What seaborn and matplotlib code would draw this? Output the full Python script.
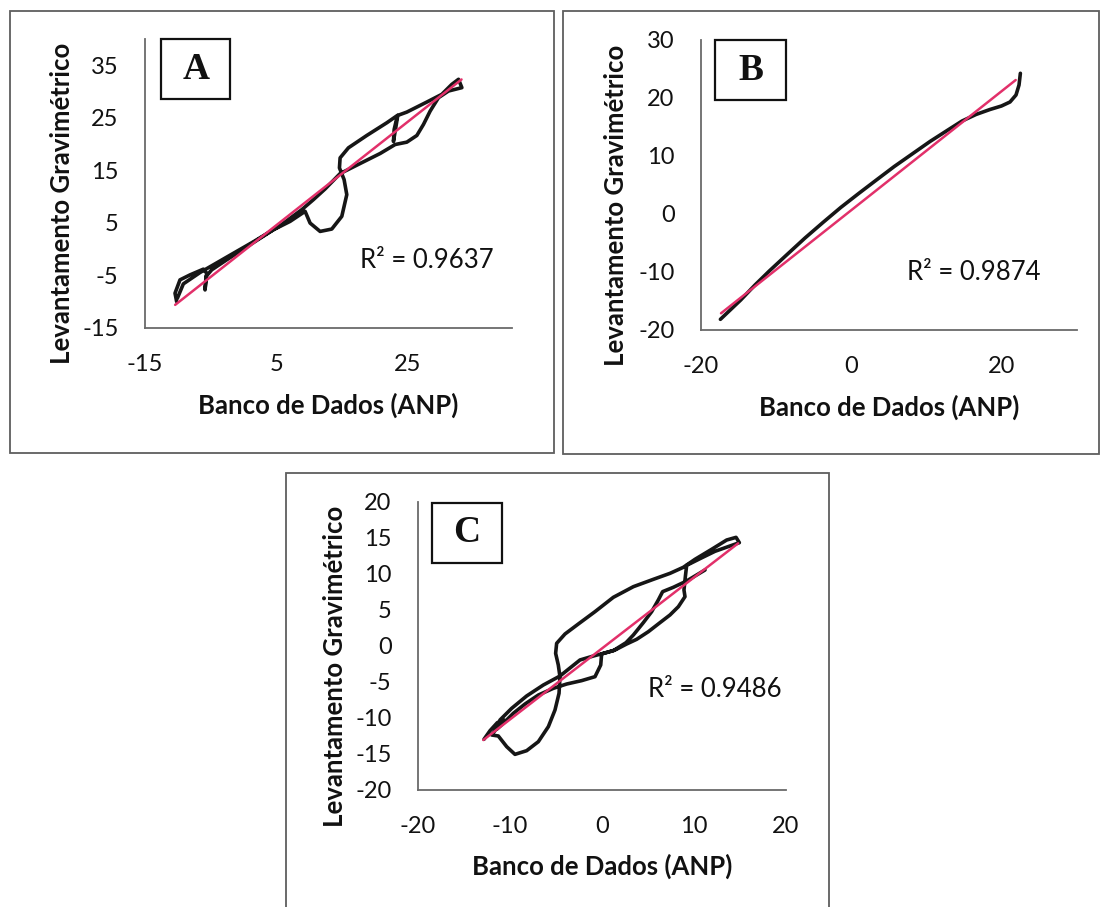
import numpy as np
import matplotlib
matplotlib.use("Agg")
import matplotlib.pyplot as plt
from matplotlib.patches import Rectangle
import seaborn as sns

# ---------------------------------------------------------------
# Gravity anomaly profiles: ANP database (x) vs. gravity survey (y)
# ---------------------------------------------------------------

# Panel A
a_anp = [-10.17, -10.42, -9.66, -8.13, -6.09, -5.59, -5.84, -5.69, -4.82, -2.53,
         1.03, 4.59, 7.14, 9.43, 10.19, 11.72, 13.50, 15.03, 15.79, 15.38,
         14.67, 14.77, 16.04, 18.84, 21.90, 23.52, 23.02, 22.91, 23.22, 23.57,
         24.95, 28.00, 30.29, 31.82, 32.84, 33.35, 31.31, 29.78, 28.51, 27.49,
         26.48, 24.95, 23.17, 20.88, 17.82, 14.77, 12.48, 10.70, 8.92, 5.61,
         1.54, -2.53, -6.60, -9.15, -10.06]
a_grav = [-9.97, -8.38, -5.84, -4.89, -3.80, -4.57, -7.75, -5.20, -3.93, -2.02,
          0.84, 3.70, 5.29, 7.20, 4.97, 3.38, 3.83, 6.25, 10.38, 13.24,
          15.47, 17.38, 19.29, 21.64, 24.06, 25.46, 22.79, 20.50, 22.79, 25.46,
          26.09, 28.00, 29.47, 31.37, 32.33, 30.74, 30.10, 28.83, 26.28, 23.74,
          21.64, 20.37, 19.92, 18.21, 16.30, 14.39, 11.46, 9.43, 7.52, 4.47,
          1.41, -1.51, -4.44, -6.60, -9.34]
a_trend_anp = [-10.4, 33.3]
a_trend_grav = [-10.6, 32.3]

# Panel B
b_anp = [-17.42, -14.72, -12.82, -10.92, -8.55, -6.17, -3.79, -1.42, 0.96, 3.32,
         5.70, 8.07, 10.45, 12.83, 14.71, 16.57, 18.43, 19.95, 21.09, 21.89,
         22.29, 22.47]
b_grav = [-18.16, -14.83, -12.24, -9.83, -6.98, -4.14, -1.47, 1.12, 3.53, 5.86,
          8.19, 10.34, 12.50, 14.48, 16.03, 17.16, 18.02, 18.62, 19.31, 20.52,
          22.24, 24.26]
b_trend_anp = [-17.34, 21.85]
b_trend_grav = [-17.12, 23.10]

# Panel C
c_anp = [-12.83, -12.17, -11.38, -10.65, -11.45, -11.99, -11.27, -10.36, -9.46, -8.19,
         -6.92, -5.83, -5.11, -4.67, -4.57, -4.75, -5.04, -4.93, -4.02, -2.57,
         -0.76, 1.23, 3.41, 5.58, 7.39, 8.84, 10.11, 11.92, 13.55, 14.57,
         14.93, 13.91, 12.28, 10.65, 9.20, 9.06, 8.91, 9.02, 8.30, 7.39,
         6.30, 5.04, 3.77, 2.68, 1.41, -0.04, -0.14, -0.76, -2.21, -3.84,
         -5.29, -6.92, -8.37, -9.64, -10.65, -11.45, -11.09, -9.82, -8.19, -6.38,
         -4.57, -3.30, -2.39, -0.94, 1.23, 2.61, 3.41, 4.49, 5.40, 6.12,
         6.59, 7.75, 9.20, 11.20]
c_grav = [-12.96, -11.76, -10.65, -10.28, -11.44, -12.36, -12.50, -13.98, -15.05, -14.54,
          -13.29, -11.20, -8.89, -6.57, -4.26, -2.64, -1.02, 0.37, 1.67, 3.06,
          4.77, 6.76, 8.24, 9.26, 10.09, 10.93, 12.04, 13.43, 14.72, 15.09,
          14.35, 13.89, 13.15, 12.13, 11.20, 9.63, 7.78, 6.85, 5.46, 4.31,
          3.24, 1.99, 0.93, 0.28, -0.56, -1.11, -2.64, -4.26, -4.81, -5.28,
          -5.88, -6.81, -8.06, -9.35, -10.65, -11.57, -10.28, -8.66, -6.94, -5.42,
          -4.17, -2.87, -1.94, -1.39, -0.65, 0.46, 1.53, 3.24, 4.77, 6.39,
          7.55, 8.15, 9.03, 10.56]
c_trend_anp = [-12.9, 14.8]
c_trend_grav = [-13.06, 14.26]

panel_letters = ["A", "B", "C"]
r2_labels = ["0.9637", "0.9874", "0.9486"]
x_ticks = [[-15, 5, 25], [-20, 0, 20], [-20, -10, 0, 10, 20]]
y_ticks = [[-15, -5, 5, 15, 25, 35], [-20, -10, 0, 10, 20, 30],
           [-20, -15, -10, -5, 0, 5, 10, 15, 20]]
x_limits = [(-15, 41), (-20, 30), (-20, 20)]
y_limits = [(-15, 40), (-20, 30), (-20, 20)]

x_title = "Banco de Dados (ANP)"
y_title = "Levantamento Gravimétrico"

# ---------------------------------------------------------------
sns.set_theme(style="white")
plt.rcParams["font.family"] = ["Lato", "DejaVu Sans"]
plt.rcParams["axes.unicode_minus"] = False

W, H = 1101, 907
fig = plt.figure(figsize=(W / 100, H / 100), dpi=100)
fig.patch.set_facecolor("white")


def fig_rect(left, top, right, bottom):
    return [left / W, 1 - bottom / H, (right - left) / W, (bottom - top) / H]


# pixel boxes of the plotting areas and of the surrounding frames
axes_px = [(145, 39, 512, 328), (701, 40, 1077, 330), (418, 502, 786, 790)]
frames_px = [(10, 11, 554, 453), (563, 11, 1099, 454), (286, 473, 829, 920)]
r2_pos = [(0.586, 0.235), (0.548, 0.197), (0.625, 0.350)]
letter_box = [(0.044, 0.792, 0.232, 1.0), (0.037, 0.793, 0.226, 1.0),
              (0.038, 0.788, 0.228, 0.997)]

xs = [a_anp, b_anp, c_anp]
ys = [a_grav, b_grav, c_grav]
trend_x = [a_trend_anp, b_trend_anp, c_trend_anp]
trend_y = [a_trend_grav, b_trend_grav, c_trend_grav]

for i in range(3):
    # frame around each chart
    fl, ft, fr, fb = frames_px[i]
    fig.add_artist(Rectangle((fl / W, 1 - fb / H), (fr - fl) / W, (fb - ft) / H,
                             transform=fig.transFigure, fill=False,
                             edgecolor="#5e5e5e", linewidth=1.3))

    ax = fig.add_axes(fig_rect(*axes_px[i]))
    ax.set_facecolor("none")

    # measured profile pairs, joined in profile order
    sns.lineplot(x=xs[i], y=ys[i], sort=False, estimator=None,
                 color="#161616", linewidth=2.6, ax=ax, zorder=2)
    # linear trend line
    sns.lineplot(x=trend_x[i], y=trend_y[i], sort=False, estimator=None,
                 color="#e2306a", linewidth=1.8, ax=ax, zorder=3)

    ax.set_xlim(*x_limits[i])
    ax.set_ylim(*y_limits[i])
    ax.set_xticks(x_ticks[i])
    ax.set_yticks(y_ticks[i])
    ax.set_xticklabels([str(t) for t in x_ticks[i]])
    ax.set_yticklabels([str(t) for t in y_ticks[i]])

    for s in ("top", "right"):
        ax.spines[s].set_visible(False)
    for s in ("left", "bottom"):
        ax.spines[s].set_color("#6a6a6a")
        ax.spines[s].set_linewidth(1.3)

    ax.tick_params(length=0, pad=19, labelsize=17, labelcolor="#111111")

    ax.set_xlabel(x_title, fontsize=18.5, fontweight="bold", color="#111111")
    ax.xaxis.set_label_coords(0.5, -0.266)
    ax.xaxis.label.set_verticalalignment("center")
    ax.set_ylabel(y_title, fontsize=18.5, fontweight="bold", color="#111111")
    ax.yaxis.set_label_coords(-0.226, 0.43)
    ax.yaxis.label.set_verticalalignment("center")

    ax.text(r2_pos[i][0], r2_pos[i][1], f"R² = {r2_labels[i]}", transform=ax.transAxes,
            fontsize=18.5, ha="left", va="center", color="#111111")

    bx0, by0, bx1, by1 = letter_box[i]
    ax.add_patch(Rectangle((bx0, by0), bx1 - bx0, by1 - by0, transform=ax.transAxes,
                           facecolor="white", edgecolor="#111111", linewidth=1.6,
                           clip_on=False, zorder=4))
    ax.text((bx0 + bx1) / 2, (by0 + by1) / 2, panel_letters[i], transform=ax.transAxes,
            ha="center", va="center", fontsize=27, fontweight="bold",
            family="Liberation Serif", color="#111111", zorder=5)

fig.savefig("out.png", dpi=100, facecolor="white")
